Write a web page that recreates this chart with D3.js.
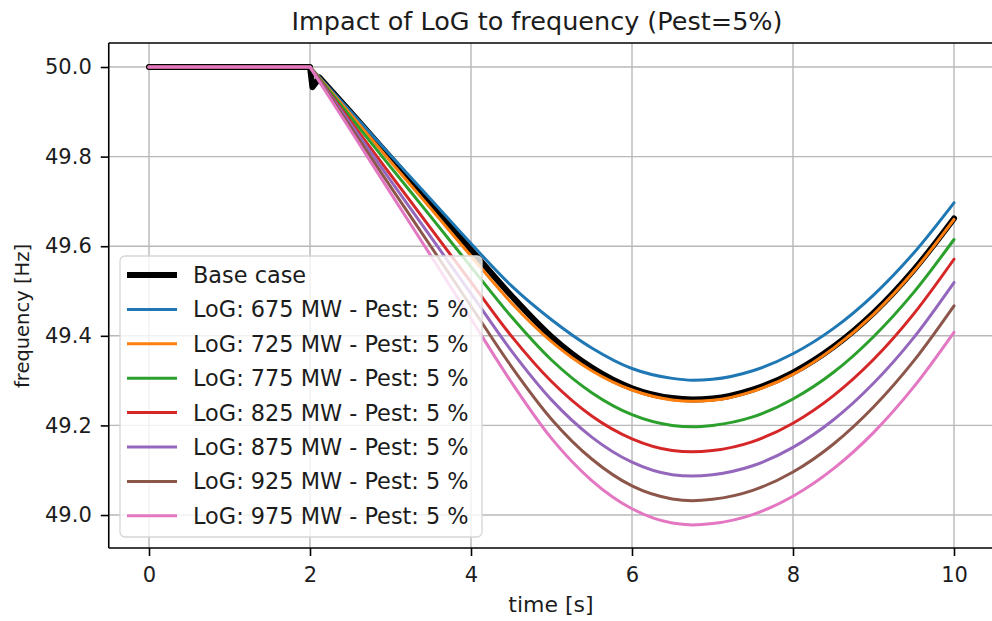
<!DOCTYPE html>
<html><head><meta charset="utf-8">
<script src="https://cdn.jsdelivr.net/npm/d3@7"></script>
<style>
body{margin:0;background:#fff;}
text{font-family:"DejaVu Sans",sans-serif;fill:#1c1c1c;}
</style>
</head><body>
<svg id="chart" width="992" height="621"></svg>
<script>
// ---------------- data ----------------
const timeS    = [0, 2, 2.5, 3, 3.5, 4, 4.5, 5, 5.5, 6, 6.5, 6.75, 7, 7.5, 8, 8.5, 9, 9.5, 10];
const baseTime = [0, 2, 2.03, 2.12, 2.5, 3, 3.5, 4, 4.5, 5, 5.5, 6, 6.5, 6.75, 7, 7.5, 8, 8.5, 9, 9.5, 10];

const baseCase = [50, 50, 49.955, 49.976, 49.900, 49.798, 49.695, 49.592, 49.490, 49.398, 49.329, 49.283, 49.261, 49.258, 49.260, 49.280, 49.318, 49.375, 49.451, 49.547, 49.662];
const log675 = [50, 50, 49.902, 49.803, 49.705, 49.606, 49.512, 49.436, 49.373, 49.327, 49.305, 49.301, 49.303, 49.322, 49.360, 49.416, 49.491, 49.585, 49.697];
const log725 = [50, 50, 49.895, 49.789, 49.684, 49.578, 49.474, 49.387, 49.322, 49.279, 49.257, 49.254, 49.256, 49.276, 49.314, 49.372, 49.448, 49.544, 49.660];
const log775 = [50, 50, 49.889, 49.777, 49.666, 49.554, 49.443, 49.346, 49.273, 49.224, 49.200, 49.197, 49.200, 49.219, 49.259, 49.318, 49.398, 49.497, 49.615];
const log825 = [50, 50, 49.880, 49.760, 49.640, 49.520, 49.400, 49.298, 49.221, 49.170, 49.144, 49.141, 49.144, 49.164, 49.205, 49.266, 49.347, 49.449, 49.571];
const log875 = [50, 50, 49.874, 49.747, 49.621, 49.494, 49.367, 49.257, 49.174, 49.118, 49.090, 49.087, 49.090, 49.110, 49.151, 49.212, 49.294, 49.396, 49.519];
const log925 = [50, 50, 49.867, 49.733, 49.600, 49.466, 49.332, 49.214, 49.125, 49.065, 49.036, 49.032, 49.035, 49.055, 49.096, 49.158, 49.241, 49.344, 49.467];
const log975 = [50, 50, 49.860, 49.719, 49.579, 49.438, 49.297, 49.171, 49.077, 49.014, 48.982, 48.978, 48.981, 49.001, 49.042, 49.103, 49.184, 49.286, 49.408];

const seriesLabels = ["Base case",
  "LoG: 675 MW - Pest: 5 %", "LoG: 725 MW - Pest: 5 %", "LoG: 775 MW - Pest: 5 %",
  "LoG: 825 MW - Pest: 5 %", "LoG: 875 MW - Pest: 5 %", "LoG: 925 MW - Pest: 5 %",
  "LoG: 975 MW - Pest: 5 %"];
const xTicks = [0, 2, 4, 6, 8, 10];
const yTicks = [49.0, 49.2, 49.4, 49.6, 49.8, 50.0];
const titleText = "Impact of LoG to frequency (Pest=5%)";
const xLabel = "time [s]";
const yLabel = "frequency [Hz]";

// ---------------- styles ----------------
const seriesColors = ["#000000", "#1f77b4", "#ff7f0e", "#2ca02c", "#d62728", "#9467bd", "#8c564b", "#e377c2"];
const seriesWidths = [6, 3, 3, 3, 3, 3, 3, 3];

const seriesTimes = [baseTime, timeS, timeS, timeS, timeS, timeS, timeS, timeS];
const seriesValues = [baseCase, log675, log725, log775, log825, log875, log925, log975];
const dropStart = [3, 1, 1, 1, 1, 1, 1, 1]; // index where the smooth part begins

// ---------------- layout ----------------
const svg = d3.select("#chart");
svg.append("rect").attr("width", 992).attr("height", 621).attr("fill", "#fff");
const L = 108.75, R = 994.25, T = 43, B = 548;
const x = d3.scaleLinear().domain([-0.5, 10.5]).range([L, R]);
const y = d3.scaleLinear().domain([48.9264, 50.0536]).range([B, T]);

svg.append("defs").append("clipPath").attr("id", "clip")
  .append("rect").attr("x", L).attr("y", T).attr("width", R - L).attr("height", B - T);

// grid
const grid = svg.append("g");
xTicks.forEach(t => grid.append("line").attr("x1", x(t)).attr("x2", x(t)).attr("y1", T).attr("y2", B)
  .attr("stroke", "#b8b8b8").attr("stroke-width", 1.4));
yTicks.forEach(t => grid.append("line").attr("x1", L).attr("x2", R).attr("y1", y(t)).attr("y2", y(t))
  .attr("stroke", "#b8b8b8").attr("stroke-width", 1.4));

// series
const lineLin = d3.line().x(d => x(d[0])).y(d => y(d[1]));
const lineSmooth = d3.line().x(d => x(d[0])).y(d => y(d[1])).curve(d3.curveMonotoneX);
const plot = svg.append("g").attr("clip-path", "url(#clip)");
seriesValues.forEach((vals, i) => {
  const pts = vals.map((v, j) => [seriesTimes[i][j], v]);
  const k = dropStart[i];
  const d = lineLin(pts.slice(0, k + 1)) + lineSmooth(pts.slice(k));
  plot.append("path").attr("d", d).attr("fill", "none")
    .attr("stroke", seriesColors[i]).attr("stroke-width", seriesWidths[i])
    .attr("stroke-linejoin", "round").attr("stroke-linecap", "round");
});

// spines
const sp = svg.append("g").attr("stroke", "#000").attr("stroke-width", 1.6);
sp.append("line").attr("x1", L).attr("x2", L).attr("y1", T).attr("y2", B);
sp.append("line").attr("x1", L).attr("x2", R).attr("y1", B).attr("y2", B);
sp.append("line").attr("x1", L).attr("x2", R).attr("y1", T).attr("y2", T);
sp.append("line").attr("x1", R).attr("x2", R).attr("y1", T).attr("y2", B);

// axes
const xAxis = svg.append("g").attr("transform", `translate(0,${B})`)
  .call(d3.axisBottom(x).tickValues(xTicks).tickFormat(d3.format("d")).tickSize(8).tickPadding(11));
const yAxis = svg.append("g").attr("transform", `translate(${L},0)`)
  .call(d3.axisLeft(y).tickValues(yTicks).tickFormat(d3.format(".1f")).tickSize(8).tickPadding(9));
[xAxis, yAxis].forEach(a => {
  a.select(".domain").remove();
  a.selectAll(".tick line").attr("stroke", "#000").attr("stroke-width", 1.6);
  a.selectAll(".tick text").attr("font-size", 21).attr("font-family", "DejaVu Sans").attr("fill", "#1c1c1c");
});

// labels
svg.append("text").attr("x", 537).attr("y", 30).attr("text-anchor", "middle")
  .attr("font-size", 25.5).text(titleText);
svg.append("text").attr("x", 551).attr("y", 612).attr("text-anchor", "middle")
  .attr("font-size", 22).text(xLabel);
svg.append("text").attr("transform", "translate(29,316) rotate(-90)").attr("text-anchor", "middle")
  .attr("font-size", 19.5).text(yLabel);

// legend
const lg = svg.append("g");
lg.append("rect").attr("x", 120).attr("y", 256).attr("width", 362).attr("height", 281)
  .attr("rx", 5).attr("fill", "#fff").attr("fill-opacity", 0.8).attr("stroke", "#d6d6d6").attr("stroke-width", 1.3);
seriesLabels.forEach((lab, i) => {
  const ry = 275 + i * 34.4;
  lg.append("line").attr("x1", 127).attr("x2", 177).attr("y1", ry).attr("y2", ry)
    .attr("stroke", seriesColors[i]).attr("stroke-width", seriesWidths[i]);
  lg.append("text").attr("x", 193).attr("y", ry).attr("dy", "0.36em")
    .attr("font-size", 22.4).text(lab);
});
</script>
</body></html>
